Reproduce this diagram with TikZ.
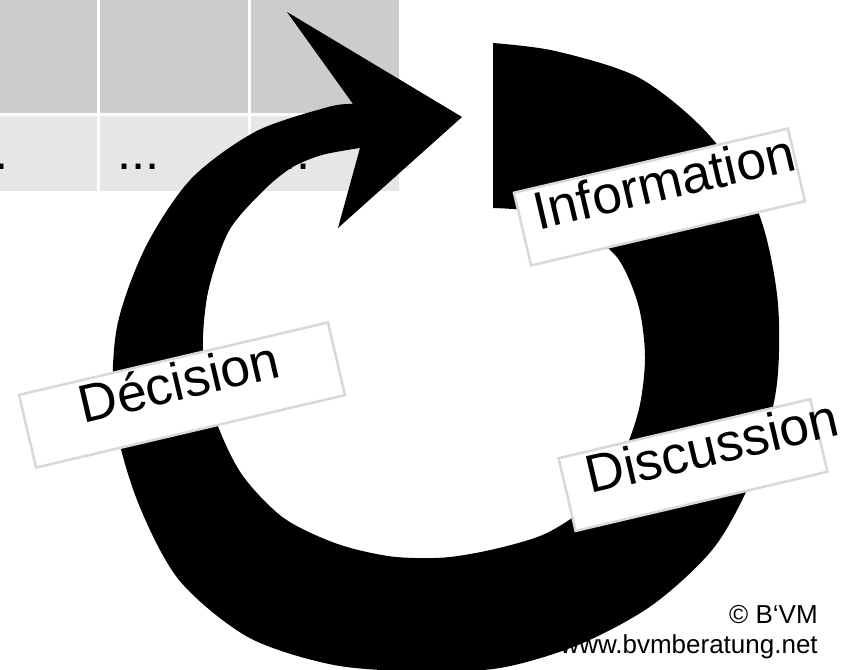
\documentclass[tikz,border=0pt]{standalone}
\usepackage{fontspec}
\setmainfont{Liberation Sans}
\usepackage{xcolor}
\usepackage{tikz}
\definecolor{cellTop}{HTML}{CCCCCC}
\definecolor{cellBot}{HTML}{E6E6E6}
\definecolor{tagLine}{HTML}{D9D9D9}
\newcommand{\shifted}[2]{\makebox[0pt]{\hspace*{#1}#2}}

\begin{document}
\begin{tikzpicture}[x=0.75pt, y=-0.75pt,
    tag/.style={draw=tagLine, line width=1.9pt, fill=white, rotate=13.2, minimum height=56pt, inner sep=0pt, text height=0.72em, text depth=0pt, font=\fontsize{40pt}{48pt}\selectfont},
    dots/.style={anchor=base west, inner sep=0pt, font=\fontsize{38pt}{46pt}\selectfont},
    credit/.style={anchor=base east, inner sep=0pt, font=\fontsize{19.5pt}{23pt}\selectfont}]
    \clip (0,0) rectangle (846,670);

    % table behind the loop
    \foreach \x [count=\i] in {-51,100,251} {
        \fill[cellTop] (\x,-20) rectangle ++(148,133);
        \fill[cellBot] (\x,116) rectangle ++(148,75);
        \node[dots] (dots\i) at (\x+17,170) {...};
    }

    % credits
    \node[credit] (copy) at (818,623) {© B‘VM};
    \node[credit] (web) at (818,653) {www.bvmberatung.net};

    % loop arrow: outer edge, head, inner edge, tail
    \fill[black] plot[smooth] coordinates {(493,43) (555.7,51.1) (639.5,78.0) (708.8,134.7) (757.6,210.5) (777.4,297.8) (776.7,385.6) (755.5,469.7) (715.2,546.1) (652.8,604.7) (578.9,644.7) (499.4,668.1) (416.9,671.3) (332.3,664.7) (248.0,637.1) (178.7,579.6) (137.0,499.9) (114.1,414.7) (116.8,327.8) (145.3,247.6) (191.0,179.0) (255.7,131.5) (328.2,107.0) (353,104)}
        -- (287,12) -- (462,117) -- (338,228)
        -- plot[smooth] coordinates {(360,148) (322,155) (291,168) (262,192) (228.4,231.8) (207.8,293.1) (203,356.5) (215.1,418.0) (241.4,473.8) (283.3,517.7) (336.5,543.6) (390.9,556.4) (444.5,557.5) (496.0,548.7) (546.5,533.2) (590.9,502.9) (621.2,458.5) (639.1,408.6) (645,356.5) (638.2,304.6) (616.8,257.0) (575.3,225.7) (528.5,211.0) (493,208)}
        -- cycle;

    % labels
    \node[tag, minimum width=211pt] (info) at (659.5,197) {\shifted{12pt}{Information}};
    \node[tag, minimum width=238pt] (deci) at (182,395) {Décision};
    \node[tag, minimum width=194pt] (disc) at (693,465) {\shifted{34pt}{Discussion}};
\end{tikzpicture}
\end{document}
